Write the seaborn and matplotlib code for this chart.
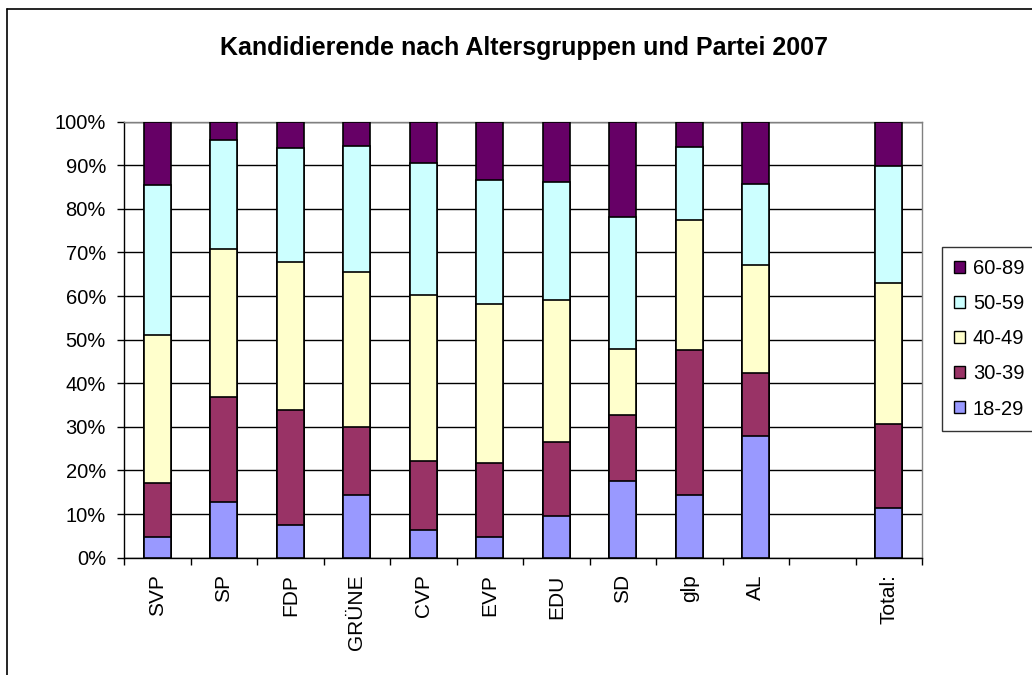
import matplotlib
matplotlib.use("Agg")
import matplotlib.pyplot as plt
import numpy as np
import pandas as pd
import seaborn as sns
from matplotlib.lines import Line2D
from matplotlib.patches import Patch
from matplotlib.ticker import FixedLocator, PercentFormatter

# data (share of candidates per age group, in %)
parties = ["SVP", "SP", "FDP", "GRÜNE", "CVP", "EVP", "EDU", "SD", "glp", "AL", "Total:"]
axis_order = ["SVP", "SP", "FDP", "GRÜNE", "CVP", "EVP", "EDU", "SD", "glp", "AL", "", "Total:"]
age_groups = ["18-29", "30-39", "40-49", "50-59", "60-89"]

share_18_29 = [4.7, 12.7, 7.6, 14.4, 6.3, 4.7, 9.5, 17.6, 14.4, 27.9, 11.3]
share_30_39 = [12.4, 24.1, 26.3, 15.5, 15.8, 17.0, 17.1, 15.1, 33.2, 14.4, 19.4]
share_40_49 = [34.0, 34.1, 34.0, 35.6, 38.1, 36.6, 32.4, 15.2, 29.8, 24.9, 32.4]
share_50_59 = [34.4, 25.0, 26.0, 28.9, 30.4, 28.3, 27.2, 30.3, 16.9, 18.6, 26.7]
share_60_89 = [14.5, 4.1, 6.1, 5.6, 9.4, 13.4, 13.8, 21.8, 5.7, 14.2, 10.2]

colors = {"18-29": "#9999FF", "30-39": "#993366", "40-49": "#FFFFCC",
          "50-59": "#CCFFFF", "60-89": "#660066"}

df = pd.DataFrame({"Partei": parties, "18-29": share_18_29, "30-39": share_30_39,
                   "40-49": share_40_49, "50-59": share_50_59, "60-89": share_60_89})
# cumulative tops, so the stacked bars can be overlaid
cum = df[age_groups].cumsum(axis=1)
cum["Partei"] = df["Partei"]

sns.set_theme(style="white")
plt.rcParams["font.family"] = ["Liberation Sans", "DejaVu Sans"]
plt.rcParams["text.color"] = "black"
plt.rcParams["xtick.color"] = "black"
plt.rcParams["ytick.color"] = "black"

fig = plt.figure(figsize=(10.32, 6.75), dpi=100)
ax = fig.add_axes([0.1202, 0.1738, 0.8935 - 0.1202, 0.8197 - 0.1738])

for grp in reversed(age_groups):
    sns.barplot(data=cum, x="Partei", y=grp, order=axis_order, color=colors[grp],
                saturation=1, width=0.41, edgecolor="black", linewidth=1.2,
                errorbar=None, ax=ax, zorder=3)

ax.set_xlim(-0.5, len(axis_order) - 0.5)
ax.set_ylim(0, 100)
ax.set_xlabel("")
ax.set_ylabel("")

ax.yaxis.set_major_locator(FixedLocator(np.arange(0, 101, 10)))
ax.yaxis.set_major_formatter(PercentFormatter(decimals=0))
ax.grid(axis="y", color="black", linewidth=1)
ax.set_axisbelow(True)

ax.set_xticks(range(len(axis_order)))
ax.set_xticklabels(axis_order, rotation=90)
ax.set_xticks(np.arange(-0.5, len(axis_order)), minor=True)
ax.tick_params(axis="x", which="major", length=0, pad=12, labelsize=15, labelcolor="black")
ax.tick_params(axis="x", which="minor", length=5, width=1, color="black", direction="out", bottom=True)
ax.tick_params(axis="y", length=5, width=1, color="black", direction="out", left=True, pad=8,
               labelsize=14.5, labelcolor="black")

for side in ["left", "bottom"]:
    ax.spines[side].set_color("black")
    ax.spines[side].set_linewidth(1)
for side in ["top", "right"]:
    ax.spines[side].set_color("#808080")
    ax.spines[side].set_linewidth(1)

fig.text(0.508, 1 - 48 / 675, "Kandidierende nach Altersgruppen und Partei 2007",
         ha="center", va="center", fontsize=18, fontweight="bold", color="black")

handles = [Patch(facecolor=colors[g], edgecolor="black", linewidth=1, label=g)
           for g in reversed(age_groups)]
leg = fig.legend(handles=handles, loc="upper left", bbox_to_anchor=(941.7 / 1032, 1 - 247 / 675),
                 fontsize=14.5, frameon=True, fancybox=False, edgecolor="black",
                 handlelength=0.55, handleheight=0.55, handletextpad=0.4,
                 labelspacing=0.8, borderpad=0.6, borderaxespad=0)
leg.get_frame().set_linewidth(1)
for t in leg.get_texts():
    t.set_color("black")

# outer chart frame (runs off the right and bottom edges)
x0, y0 = 7.3 / 1032, 1 - 9.3 / 675
fig.add_artist(Line2D([x0, x0], [0, y0], transform=fig.transFigure, color="black", lw=1.2))
fig.add_artist(Line2D([x0, 1], [y0, y0], transform=fig.transFigure, color="black", lw=1.2))

fig.savefig("out.png", dpi=100, facecolor="white")
